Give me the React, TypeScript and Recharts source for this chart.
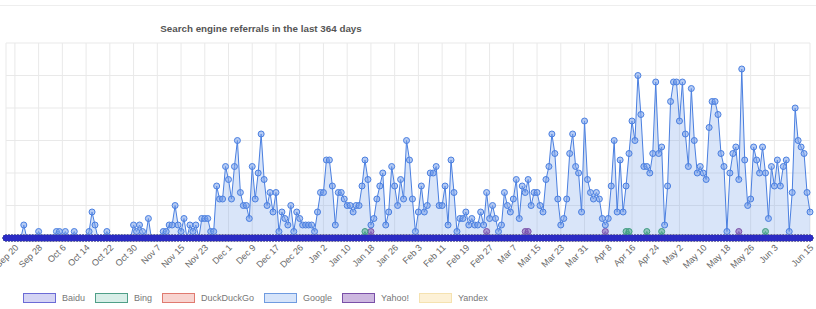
import { ComposedChart, Area, XAxis, YAxis, CartesianGrid } from 'recharts'

// day 0 = Sep 17, last day = Jun 15
const tickDays = [3, 11, 19, 27, 35, 43, 51, 59, 67, 75, 83, 91, 99, 107, 115, 123, 131, 139, 147, 155, 163, 171, 179, 187, 195, 203, 211, 219, 227, 235, 243, 251, 259, 271]
const tickLabels = [
  'Sep 20', 'Sep 28', 'Oct 6', 'Oct 14', 'Oct 22', 'Oct 30', 'Nov 7', 'Nov 15', 'Nov 23',
  'Dec 1', 'Dec 9', 'Dec 17', 'Dec 26', 'Jan 2', 'Jan 10', 'Jan 18', 'Jan 26', 'Feb 3',
  'Feb 11', 'Feb 19', 'Feb 27', 'Mar 7', 'Mar 15', 'Mar 23', 'Mar 31', 'Apr 8', 'Apr 16',
  'Apr 24', 'May 2', 'May 10', 'May 18', 'May 26', 'Jun 3', 'Jun 15',
]

const google = [
  0, 0, 0, 0, 0, 0, 2, 0, 0, 0, 0, 1, 0, 0, 0, 0,
  0, 1, 1, 0, 1, 0, 0, 1, 0, 0, 0, 0, 1, 4, 2, 0,
  0, 0, 1, 0, 0, 0, 0, 0, 0, 0, 0, 2, 1, 2, 1, 0,
  3, 0, 0, 0, 0, 1, 1, 2, 2, 5, 2, 1, 3, 0, 2, 1,
  2, 0, 3, 3, 3, 1, 1, 8, 6, 6, 11, 9, 6, 11, 15, 7,
  5, 5, 3, 11, 6, 10, 16, 9, 5, 7, 4, 7, 1, 4, 3, 2,
  5, 1, 4, 3, 2, 2, 2, 2, 1, 4, 7, 7, 12, 12, 8, 2,
  7, 7, 6, 5, 5, 4, 5, 5, 8, 12, 9, 2, 3, 6, 8, 10,
  2, 4, 11, 8, 5, 9, 6, 15, 12, 6, 1, 4, 8, 4, 5, 10,
  10, 11, 5, 5, 8, 2, 12, 7, 1, 3, 3, 4, 2, 3, 2, 2,
  4, 2, 7, 3, 5, 3, 1, 2, 7, 5, 4, 6, 9, 3, 8, 7,
  9, 5, 7, 7, 5, 4, 9, 11, 16, 13, 6, 2, 3, 6, 13, 16,
  11, 10, 4, 18, 9, 7, 6, 7, 6, 3, 2, 3, 8, 15, 4, 12,
  4, 8, 13, 18, 15, 25, 19, 11, 11, 10, 13, 24, 13, 14, 2, 8,
  21, 24, 24, 18, 24, 16, 11, 23, 15, 10, 11, 10, 9, 17, 21, 21,
  19, 13, 11, 1, 10, 13, 14, 9, 26, 12, 5, 6, 14, 12, 10, 14,
  10, 3, 11, 8, 12, 8, 11, 12, 1, 7, 20, 15, 14, 13, 7, 4,
]

// the other engines are zero except on these [day, count] pairs
const baiduHits: [number, number][] = []
const bingHits: [number, number][] = [[121, 1], [209, 1], [210, 1], [216, 1], [221, 1], [256, 1]]
const duckHits: [number, number][] = []
const yahooHits: [number, number][] = [[123, 1], [162, 1], [175, 1], [176, 1], [202, 1], [247, 1]]
const yandexHits: [number, number][] = []

const yTicks = [0, 5, 10, 15, 20, 25, 30]

const hitsAt = (hits: [number, number][], day: number) => {
  const h = hits.find((p) => p[0] === day)
  return h ? h[1] : 0
}

const data = google.map((g, day) => ({
  day,
  baidu: hitsAt(baiduHits, day),
  bing: hitsAt(bingHits, day),
  duck: hitsAt(duckHits, day),
  google: g,
  yahoo: hitsAt(yahooHits, day),
  yandex: hitsAt(yandexHits, day),
}))

const series = [
  { key: 'baidu', name: 'Baidu', line: '#2b2bc4', area: 'rgba(120,120,220,0.3)', box: '#d4d4f4', boxLine: '#6b6bd6' },
  { key: 'bing', name: 'Bing', line: '#3f9c80', area: 'rgba(80,170,140,0.25)', box: '#d8eee8', boxLine: '#4f9f88' },
  { key: 'duck', name: 'DuckDuckGo', line: '#e07a70', area: 'rgba(230,120,110,0.25)', box: '#f8d4d0', boxLine: '#e07a70' },
  { key: 'google', name: 'Google', line: '#4a7fe0', area: 'rgba(120,160,235,0.28)', box: '#d6e4fa', boxLine: '#6f9be0' },
  { key: 'yahoo', name: 'Yahoo!', line: '#7a50a8', area: 'rgba(130,90,180,0.25)', box: '#cdb8e0', boxLine: '#7a50a8' },
  { key: 'yandex', name: 'Yandex', line: '#f2dca0', area: 'rgba(250,225,160,0.25)', box: '#fdf1d6', boxLine: '#f5e2b0' },
]

const font = '"Liberation Sans", Arial, sans-serif'

function DateTick({ x, y, payload }: any) {
  const i = tickDays.indexOf(payload.value)
  return (
    <text
      x={x + 2}
      y={y}
      dy={3}
      transform={`rotate(-45 ${x + 2} ${y})`}
      textAnchor="end"
      fontSize={9}
      fontFamily={font}
      fill="#666"
    >
      {tickLabels[i]}
    </text>
  )
}

export default function App() {
  // chart.js draws the first dataset on top, so render in reverse
  const drawOrder = [...series].reverse()
  return (
    <div style={{ position: 'absolute', left: 0, top: 0, width: 816, height: 309, background: '#fff', overflow: 'hidden' }}>
      <div style={{ position: 'absolute', left: 0, top: 5, width: 816, height: 1, background: '#eeeeee' }} />
      <div
        style={{
          position: 'absolute', left: 0, top: 24, width: 522, textAlign: 'center',
          fontFamily: font, fontSize: 9.8, fontWeight: 'bold', color: '#555', lineHeight: '10px',
        }}
      >
        Search engine referrals in the last 364 days
      </div>
      <ComposedChart width={816} height={309} data={data} margin={{ top: 43, right: 6, bottom: 11, left: 6 }}>
        <CartesianGrid stroke="#e9e9e9" strokeWidth={1} />
        <XAxis
          dataKey="day"
          type="number"
          domain={[0, google.length - 1]}
          ticks={tickDays}
          interval={0}
          tick={<DateTick />}
          tickLine={false}
          axisLine={false}
          height={60}
        />
        <YAxis hide domain={[0, 30]} ticks={yTicks} />
        {drawOrder.map((s) => (
          <Area
            key={s.key}
            dataKey={s.key}
            type="linear"
            stroke={s.line}
            strokeWidth={1}
            fill={s.area}
            fillOpacity={1}
            dot={{ r: 3, fill: s.key === 'baidu' ? s.line : s.area.replace(/[\d.]+\)$/, '0.55)'), stroke: s.line, strokeWidth: 1 }}
            activeDot={false}
            isAnimationActive={false}
          />
        ))}
      </ComposedChart>
      <div style={{ position: 'absolute', left: 23, top: 293, display: 'flex', alignItems: 'center', fontFamily: font, fontSize: 9, color: '#777' }}>
        {series.map((s) => (
          <div key={s.key} style={{ display: 'flex', alignItems: 'center', marginRight: 10 }}>
            <div style={{ width: 31, height: 8, background: s.box, border: `1px solid ${s.boxLine}`, marginRight: 6 }} />
            <span>{s.name}</span>
          </div>
        ))}
      </div>
    </div>
  )
}
